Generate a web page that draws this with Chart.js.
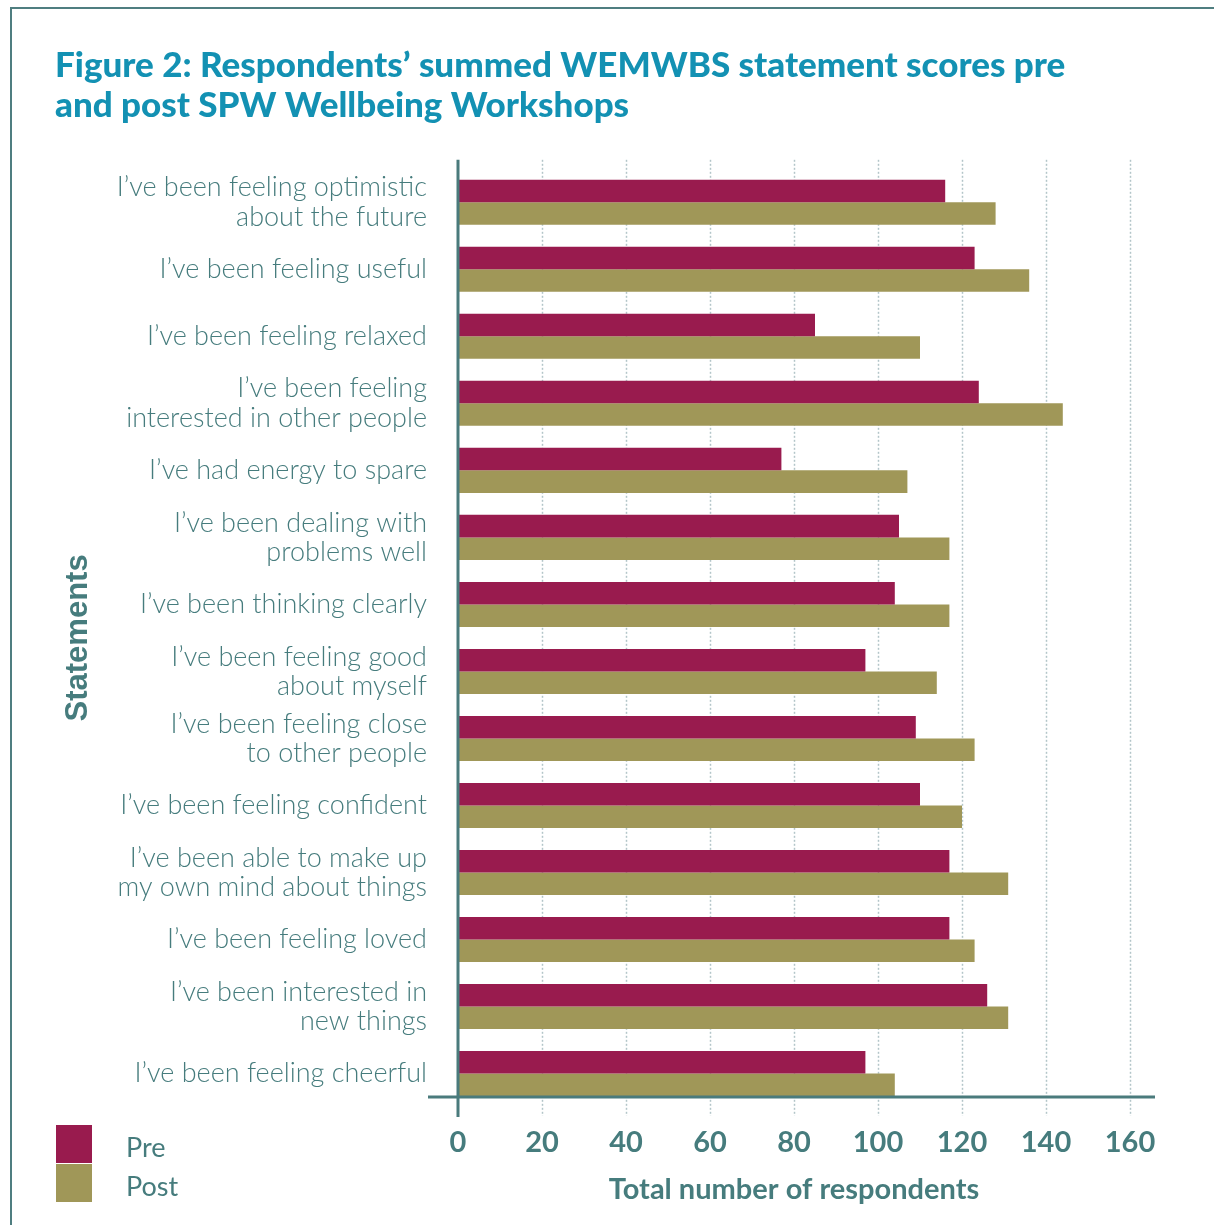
<!DOCTYPE html>
<html>
<head>
<meta charset="utf-8">
<script src="https://cdn.jsdelivr.net/npm/chart.js@4/dist/chart.umd.min.js"></script>
<style>
  body { margin: 0; background: #fff; }
  #wrap { position: relative; width: 1214px; height: 1225px; }
  #frame { position: absolute; left: 10px; top: 7px; right: 0; bottom: 0;
           border-top: 2px solid #4f7e80; border-left: 2px solid #4f7e80; pointer-events: none; }
</style>
</head>
<body>
<div id="wrap">
  <canvas id="chart"></canvas>
  <div id="frame"></div>
</div>
<script>
'use strict';

let statements = [
  ['I’ve been feeling optimistic', 'about the future'],
  'I’ve been feeling useful',
  'I’ve been feeling relaxed',
  ['I’ve been feeling', 'interested in other people'],
  'I’ve had energy to spare',
  ['I’ve been dealing with', 'problems well'],
  'I’ve been thinking clearly',
  ['I’ve been feeling good', 'about myself'],
  ['I’ve been feeling close', 'to other people'],
  'I’ve been feeling confident',
  ['I’ve been able to make up', 'my own mind about things'],
  'I’ve been feeling loved',
  ['I’ve been interested in', 'new things'],
  'I’ve been feeling cheerful'
];
let preScores = [116, 123, 85, 124, 77, 105, 104, 97, 109, 110, 117, 117, 126, 97];
let postScores = [128, 136, 110, 144, 107, 117, 117, 114, 123, 120, 131, 123, 131, 104];
let xTicks = [0, 20, 40, 60, 80, 100, 120, 140, 160];

let teal = '#467c7d';
let preColor = '#991b4e';
let postColor = '#a09758';

Chart.defaults.font.family = 'Lato';

// dotted grid under the bars, solid axes on top
let axesPlugin = {
  id: 'axes',
  beforeDatasetsDraw(chart) {
    let ctx = chart.ctx;
    let xs = chart.scales.x;
    let area = chart.chartArea;
    let last = chart.getDatasetMeta(1).data[statements.length - 1];
    let axisY = last.y + last.height / 2;
    ctx.save();
    ctx.strokeStyle = '#b3c5c9';
    ctx.lineWidth = 1.5;
    ctx.setLineDash([2, 2]);
    for (let i = 1; i < xTicks.length; i++) {
      let x = Math.round(xs.getPixelForValue(xTicks[i])) + 0.5;
      ctx.beginPath();
      ctx.moveTo(x, area.top - 9);
      ctx.lineTo(x, axisY + 20);
      ctx.stroke();
    }
    ctx.restore();
  },
  afterDatasetsDraw(chart) {
    let ctx = chart.ctx;
    let xs = chart.scales.x;
    let area = chart.chartArea;
    let last = chart.getDatasetMeta(1).data[statements.length - 1];
    let axisY = last.y + last.height / 2 + 1;
    let x0 = xs.getPixelForValue(0);
    ctx.save();
    ctx.strokeStyle = '#4a7b7c';
    ctx.lineWidth = 3;
    ctx.beginPath();
    ctx.moveTo(x0 - 30, axisY);
    ctx.lineTo(area.right + 25, axisY);
    ctx.moveTo(x0, area.top - 9);
    ctx.lineTo(x0, axisY + 20);
    ctx.stroke();
    ctx.restore();
  }
};

// legend boxes bottom-left
let legendPlugin = {
  id: 'sideLegend',
  afterDraw(chart) {
    let ctx = chart.ctx;
    ctx.save();
    chart.data.datasets.forEach(function(ds, i) {
      let top = 1125 + i * 39;
      ctx.fillStyle = ds.backgroundColor;
      ctx.fillRect(56, top, 36, 38);
      ctx.fillStyle = teal;
      ctx.font = '27px Lato';
      ctx.textBaseline = 'middle';
      ctx.fillText(ds.label, 126, top + 23);
    });
    ctx.restore();
  }
};

let ctx = document.getElementById('chart').getContext('2d');

let chart = new Chart(ctx, {
  type: 'bar',
  data: {
    labels: statements,
    datasets: [
      { label: 'Pre', data: preScores, backgroundColor: preColor,
        barPercentage: 1, categoryPercentage: 0.672 },
      { label: 'Post', data: postScores, backgroundColor: postColor,
        barPercentage: 1, categoryPercentage: 0.672 }
    ]
  },
  options: {
    indexAxis: 'y',
    responsive: true,
    maintainAspectRatio: false,
    animation: false,
    layout: { padding: { left: 55, right: 84, top: 0, bottom: 0 } },
    plugins: {
      legend: { display: false },
      tooltip: { enabled: false },
      title: {
        display: true,
        text: ['Figure 2: Respondents’ summed WEMWBS statement scores pre',
               'and post SPW Wellbeing Workshops'],
        align: 'start',
        color: '#1391b3',
        font: { size: 35, weight: 900, lineHeight: 1.14 },
        padding: { top: 46, bottom: 43 }
      }
    },
    scales: {
      x: {
        min: 0,
        max: 160,
        afterBuildTicks(scale) {
          scale.ticks = xTicks.map(v => ({ value: v }));
        },
        afterFit(scale) { scale.height = 118; },
        grid: { display: false, drawTicks: false },
        border: { display: false },
        ticks: { color: teal, padding: 18, font: { size: 29, weight: 'bold' } },
        title: {
          display: true,
          text: 'Total number of respondents',
          color: teal,
          font: { size: 29, weight: 'bold' },
          padding: { top: 10, bottom: 18 }
        }
      },
      y: {
        afterFit(scale) { scale.width = 403; },
        grid: { display: false, drawTicks: false },
        border: { display: false },
        ticks: { color: teal, padding: 31, font: { size: 27, weight: 300, lineHeight: 1.08 } },
        title: {
          display: true,
          text: 'Statements',
          color: teal,
          font: { family: 'Liberation Sans', size: 31, weight: 'bold' },
          padding: { top: 5, bottom: 0 }
        }
      }
    }
  },
  plugins: [axesPlugin, legendPlugin]
});
</script>
</body>
</html>
